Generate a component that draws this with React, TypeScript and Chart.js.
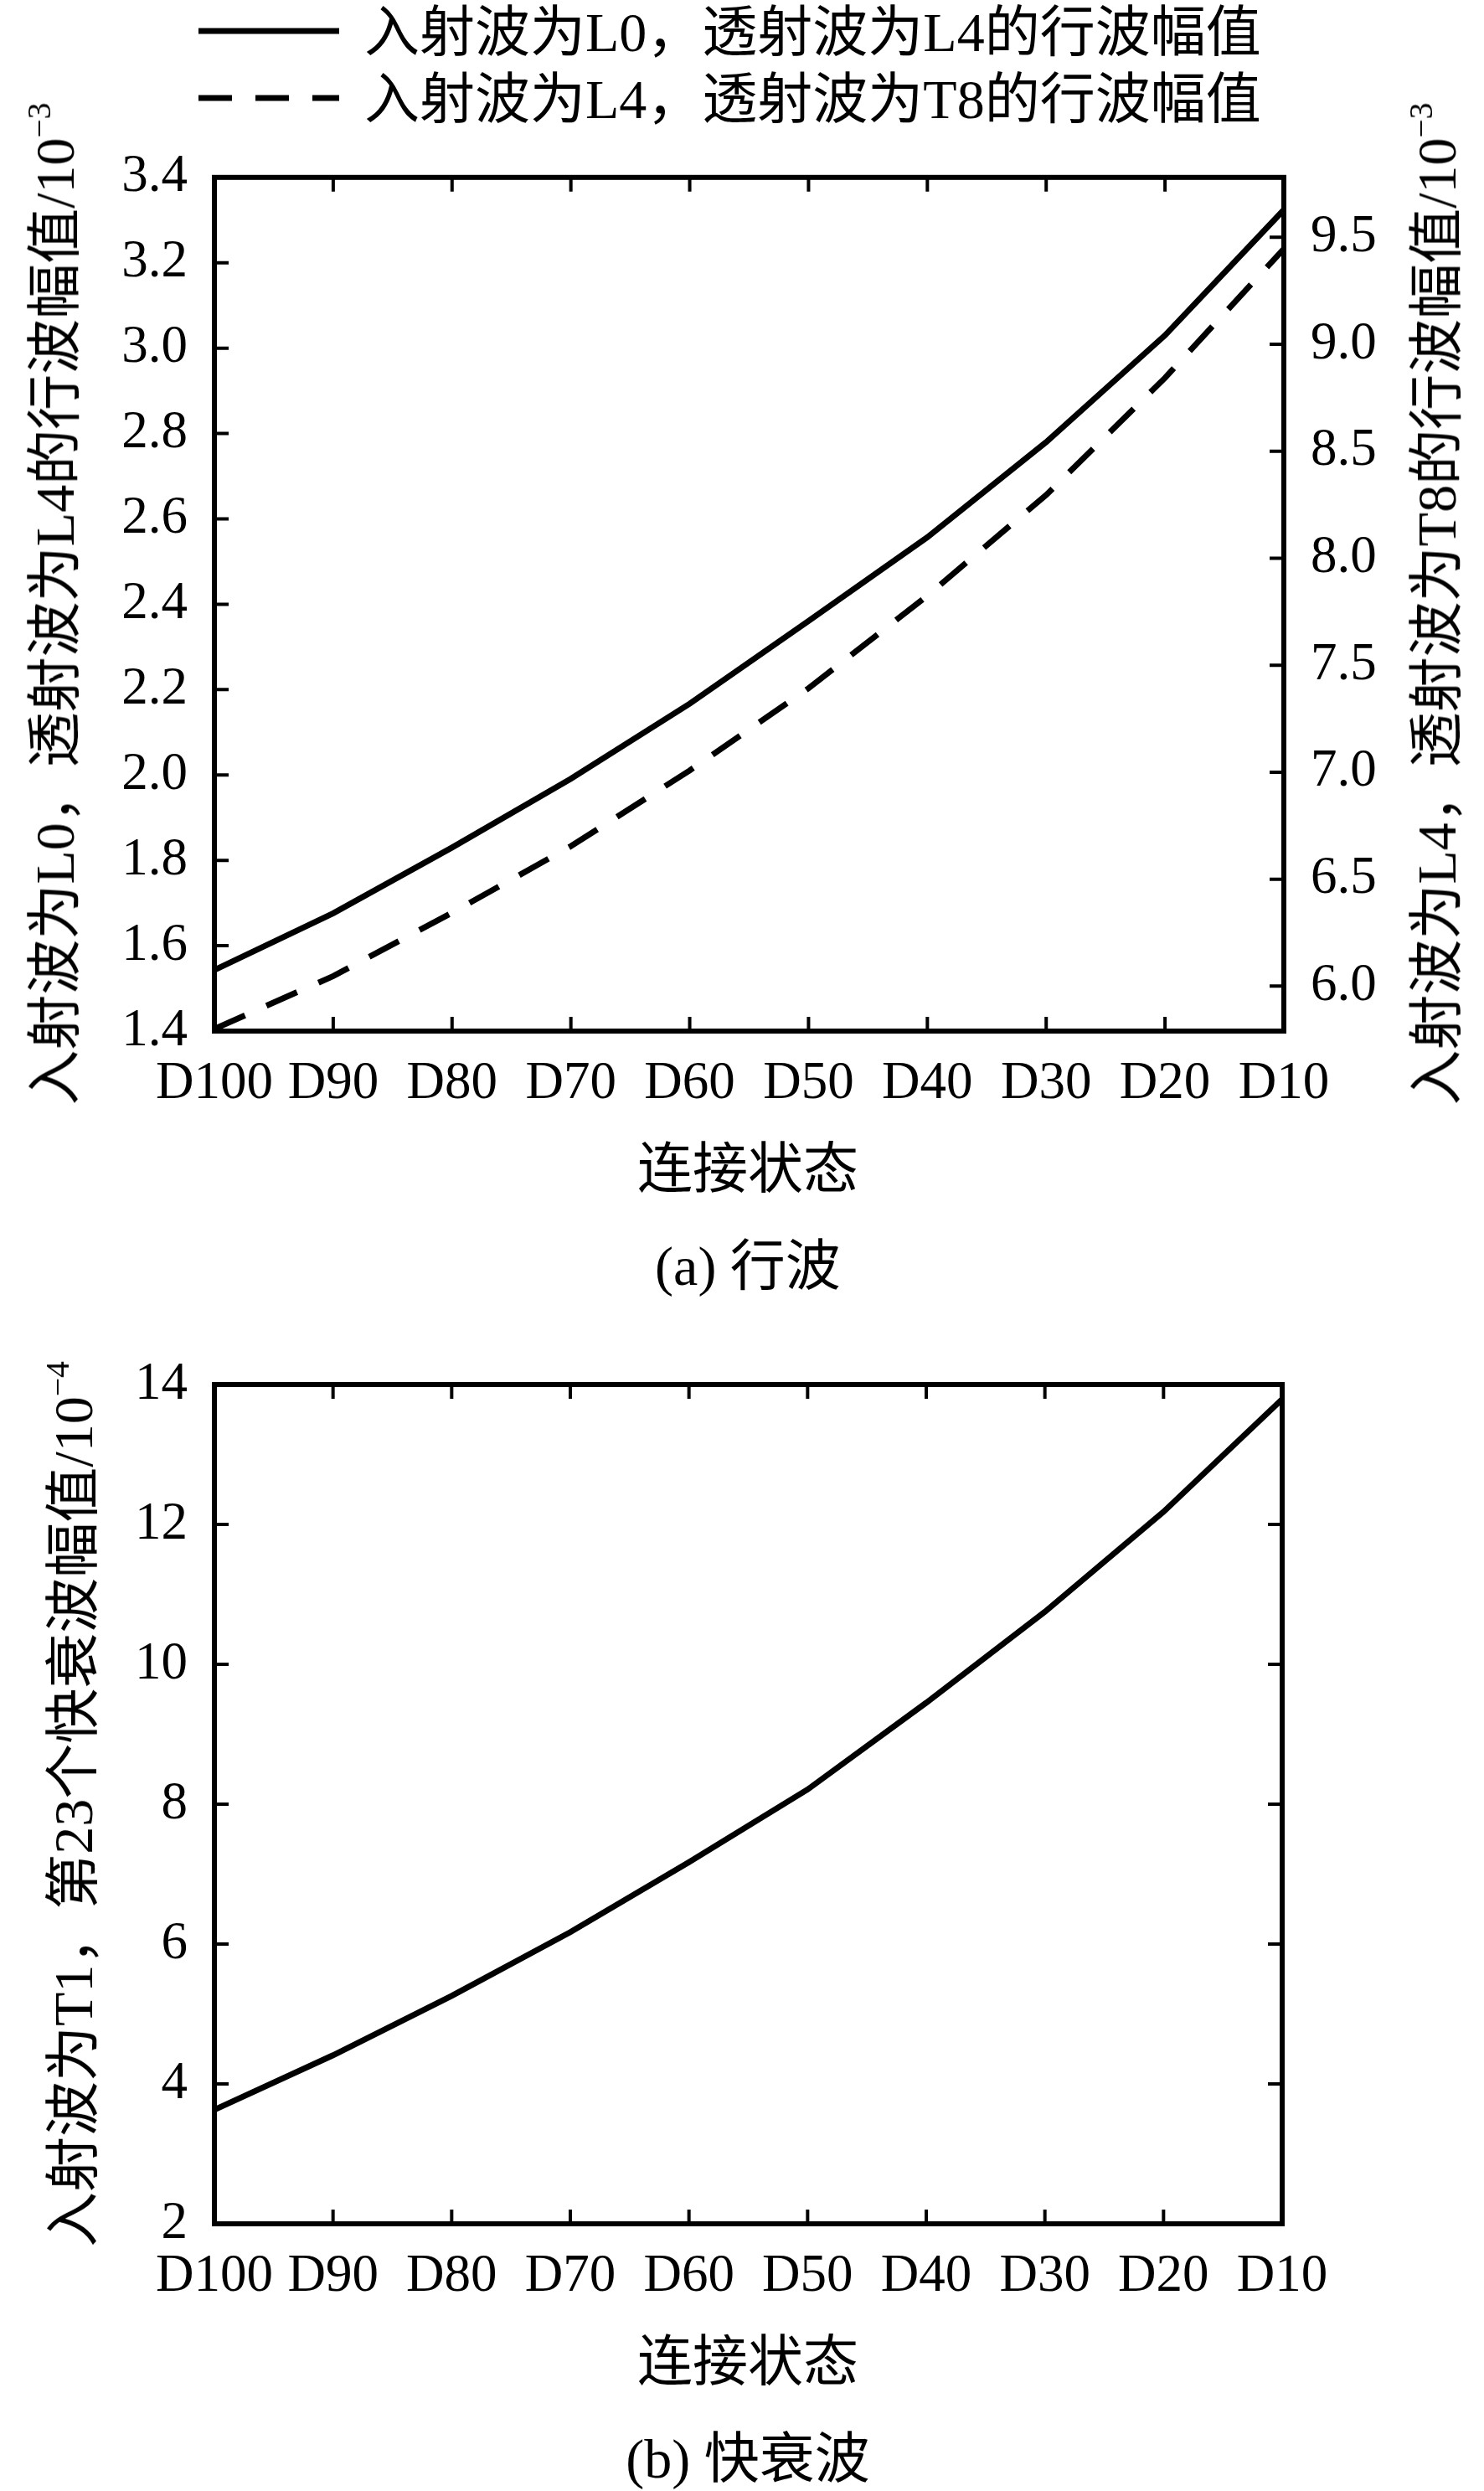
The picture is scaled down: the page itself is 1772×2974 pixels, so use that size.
import { useEffect, useRef } from 'react';
import { Chart, registerables } from 'chart.js';

Chart.register(...registerables);

// connection states, left to right
const categories = ['D100', 'D90', 'D80', 'D70', 'D60', 'D50', 'D40', 'D30', 'D20', 'D10'];

// (a) travelling wave amplitudes, x1e-3
const l0ToL4 = [1.543, 1.676, 1.83, 1.991, 2.167, 2.361, 2.557, 2.78, 3.03, 3.324];
const l4ToT8 = [5.8, 6.047, 6.343, 6.654, 7.008, 7.392, 7.825, 8.296, 8.843, 9.446];

// (b) 23rd fast-decay wave amplitude, x1e-4
const t1Fast23 = [3.63, 4.41, 5.26, 6.17, 7.17, 8.21, 9.45, 10.75, 12.18, 13.79];

// tick labels
const leftTicksA = [1.4, 1.6, 1.8, 2.0, 2.2, 2.4, 2.6, 2.8, 3.0, 3.2, 3.4];
const rightTicksA = [6.0, 6.5, 7.0, 7.5, 8.0, 8.5, 9.0, 9.5];
const ticksB = [2, 4, 6, 8, 10, 12, 14];

const legendLabels = ['入射波为L0，透射波为L4的行波幅值', '入射波为L4，透射波为T8的行波幅值'];

const SERIF = '"Liberation Serif", "Times New Roman", "Noto Sans CJK SC", serif';
const DASH = [40, 28];
const LINE_W = 7;
const TICK_LEN = 17;

const tickFont = { family: SERIF, size: 63, lineHeight: 1.2 };

// inward tick marks + box frame, like the original plot
const frameTicks = {
  id: 'frameTicks',
  afterDatasetsDraw(chart: any) {
    const { ctx, chartArea: a, scales } = chart;
    const x = scales.x;
    const y = scales.y;
    const y1 = scales.y1;
    ctx.save();
    ctx.strokeStyle = '#000';
    ctx.lineWidth = 4;
    ctx.beginPath();
    x.ticks.forEach((_t: any, i: number) => {
      const px = x.getPixelForTick(i);
      ctx.moveTo(px, a.bottom);
      ctx.lineTo(px, a.bottom - TICK_LEN);
      ctx.moveTo(px, a.top);
      ctx.lineTo(px, a.top + TICK_LEN);
    });
    y.ticks.forEach((t: any) => {
      const py = y.getPixelForValue(t.value);
      ctx.moveTo(a.left, py);
      ctx.lineTo(a.left + TICK_LEN, py);
      if (!y1) {
        ctx.moveTo(a.right, py);
        ctx.lineTo(a.right - TICK_LEN, py);
      }
    });
    if (y1) {
      y1.ticks.forEach((t: any) => {
        const py = y1.getPixelForValue(t.value);
        ctx.moveTo(a.right, py);
        ctx.lineTo(a.right - TICK_LEN, py);
      });
    }
    ctx.stroke();
    ctx.lineWidth = 6;
    ctx.strokeRect(a.left, a.top, a.right - a.left, a.bottom - a.top);
    ctx.restore();
  },
};

const yAxis = (position: string, min: number, max: number, values: number[], digits: number, width: number) => ({
  type: 'linear',
  position,
  min,
  max,
  afterBuildTicks: (s: any) => {
    s.ticks = values.map((value) => ({ value }));
  },
  afterFit: (s: any) => {
    s.width = width;
  },
  grid: { display: false },
  border: { display: false },
  ticks: {
    font: tickFont,
    color: '#000',
    padding: 24,
    callback: (v: any) => Number(v).toFixed(digits),
  },
});

const xAxis = (height: number) => ({
  type: 'category',
  offset: false,
  afterFit: (s: any) => {
    s.height = height;
  },
  grid: { display: false },
  border: { display: false },
  ticks: { font: tickFont, color: '#000', padding: 18, autoSkip: false, maxRotation: 0 },
});

const line = (label: string, data: number[], yAxisID: string, dash: number[] = []) => ({
  label,
  data,
  yAxisID,
  borderColor: '#000',
  borderWidth: LINE_W,
  borderDash: dash,
  pointRadius: 0,
  tension: 0,
  fill: false,
});

const configA = () => ({
  type: 'line',
  data: {
    labels: categories,
    datasets: [line(legendLabels[0], l0ToL4, 'y'), line(legendLabels[1], l4ToT8, 'y1', DASH)],
  },
  options: {
    animation: false,
    responsive: false,
    layout: { padding: { top: 61, right: 0, bottom: 0, left: 0 } },
    plugins: { legend: { display: false }, tooltip: { enabled: false } },
    scales: {
      x: xAxis(119),
      y: yAxis('left', 1.4, 3.4, leftTicksA, 1, 256),
      y1: yAxis('right', 5.79, 9.78, rightTicksA, 1, 239),
    },
  },
  plugins: [frameTicks],
});

const configB = () => ({
  type: 'line',
  data: {
    labels: categories,
    datasets: [line('入射波为T1，第23个快衰波幅值', t1Fast23, 'y')],
  },
  options: {
    animation: false,
    responsive: false,
    layout: { padding: { top: 63, right: 241, bottom: 0, left: 0 } },
    plugins: { legend: { display: false }, tooltip: { enabled: false } },
    scales: {
      x: xAxis(135),
      y: yAxis('left', 2, 14, ticksB, 0, 256),
    },
  },
  plugins: [frameTicks],
});

interface PanelProps {
  top: number;
  height: number;
  makeConfig: () => any;
}

const Panel: React.FC<PanelProps> = ({ top, height, makeConfig }) => {
  const canvasRef = useRef<HTMLCanvasElement>(null);

  useEffect(() => {
    if (!canvasRef.current) return;
    const chart = new Chart(canvasRef.current, makeConfig());
    return () => chart.destroy();
  }, [makeConfig]);

  return (
    <canvas
      ref={canvasRef}
      width={1772}
      height={height}
      style={{ position: 'absolute', left: 0, top, width: 1772, height }}
    />
  );
};

const textBase: React.CSSProperties = {
  position: 'absolute',
  fontFamily: SERIF,
  fontSize: 66,
  lineHeight: '66px',
  color: '#000',
  whiteSpace: 'nowrap',
};

const Centered = ({ x, y, children, rotate = false }: { x: number; y: number; children: any; rotate?: boolean }) => (
  <div
    style={{
      ...textBase,
      left: x,
      top: y,
      transform: `translate(-50%, -50%)${rotate ? ' rotate(-90deg)' : ''}`,
    }}
  >
    {children}
  </div>
);

const Sup = ({ children }: { children: any }) => (
  <sup style={{ fontSize: '0.6em', verticalAlign: '0.7em', lineHeight: 0 }}>{children}</sup>
);

const LegendRow = ({ y, label, dash }: { y: number; label: string; dash: number[] }) => (
  <>
    <svg
      width={168}
      height={12}
      style={{ position: 'absolute', left: 237, top: y - 6 }}
    >
      <line x1={0} y1={6} x2={168} y2={6} stroke="#000" strokeWidth={LINE_W} strokeDasharray={dash.join(' ')} />
    </svg>
    <div style={{ ...textBase, left: 435, top: y - 31 }}>{label}</div>
  </>
);

export default function App() {
  return (
    <div style={{ position: 'absolute', left: 0, top: 0, width: 1772, height: 2974, background: '#fff', overflow: 'hidden' }}>
      <LegendRow y={37} label={legendLabels[0]} dash={[]} />
      <LegendRow y={117} label={legendLabels[1]} dash={DASH} />

      <Panel top={150} height={1200} makeConfig={configA} />
      <Centered x={66} y={721} rotate>
        入射波为L0，透射波为L4的行波幅值/10<Sup>−3</Sup>
      </Centered>
      <Centered x={1716} y={721} rotate>
        入射波为L4，透射波为T8的行波幅值/10<Sup>−3</Sup>
      </Centered>
      <Centered x={893} y={1396}>连接状态</Centered>
      <Centered x={893} y={1512}>(a) 行波</Centered>

      <Panel top={1590} height={1200} makeConfig={configB} />
      <Centered x={88} y={2154} rotate>
        入射波为T1，第23个快衰波幅值/10<Sup>−4</Sup>
      </Centered>
      <Centered x={893} y={2820}>连接状态</Centered>
      <Centered x={893} y={2936}>(b) 快衰波</Centered>
    </div>
  );
}
